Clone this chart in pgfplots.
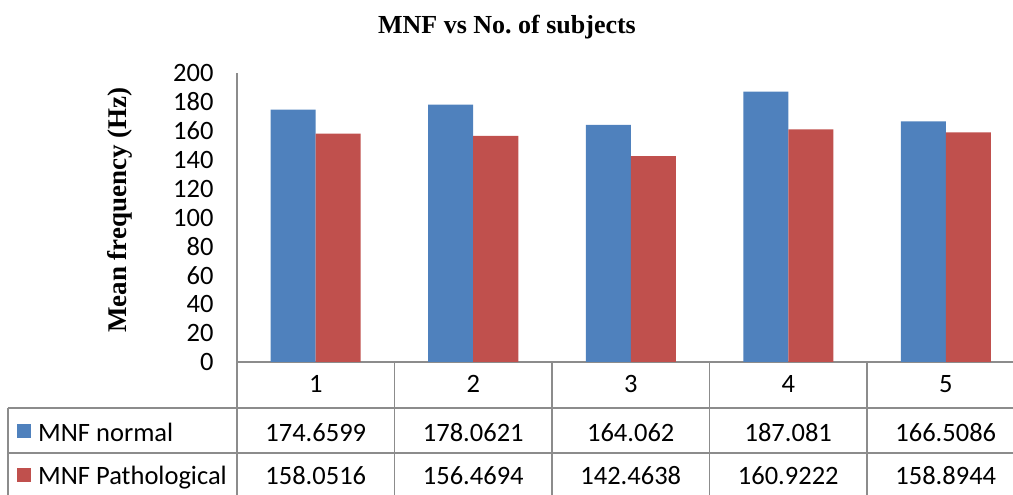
\documentclass[border=0pt]{standalone}
\usepackage{fontspec}
\setmainfont{Carlito}
\newfontfamily\titlefont{Liberation Serif}
\usepackage{pgfplots}
\usepackage{pgfplotstable}
\pgfplotsset{compat=1.18}

\definecolor{mnfblue}{HTML}{4F81BD}
\definecolor{mnfred}{HTML}{C0504D}
\definecolor{rulegray}{HTML}{8C8C8C}

% Mean frequency (Hz) per subject
\pgfplotstableread{
subj normal   patho
1    174.6599 158.0516
2    178.0621 156.4694
3    164.062  142.4638
4    187.081  160.9222
5    166.5086 158.8944
}\mnftable

\newcommand{\tblfont}{\fontsize{26.5}{30}\selectfont}

\begin{document}
\begin{tikzpicture}[x=1pt,y=1pt]
\clip (-237,-133) rectangle (776,362);
\begin{axis}[
  at={(0,0)}, anchor=south west,
  scale only axis, width=776pt, height=289pt,
  xmin=0.5, xmax=5.427, ymin=0, ymax=200,
  axis x line*=bottom, axis y line*=left,
  axis line style={rulegray, line width=1.5pt, -},
  xtick=\empty,
  ytick={0,20,...,200},
  major tick length=0pt,
  yticklabel style={font=\tblfont, xshift=-20pt},
  /pgf/number format/assume math mode=true,
  ybar, bar width=45pt,
  clip=false,
]
\addplot[fill=mnfblue, draw=none, bar shift=-22.5pt] table[x=subj, y=normal] {\mnftable};
\addplot[fill=mnfred,  draw=none, bar shift=22.5pt]  table[x=subj, y=patho]  {\mnftable};
\end{axis}

% title and y label
\node[font=\titlefont\bfseries\fontsize{26}{30}\selectfont] at (270,335) {MNF vs No.\ of subjects};
\node[font=\titlefont\bfseries\fontsize{27}{30}\selectfont, rotate=90] at (-117,152) {Mean frequency (Hz)};

% data table below the plot
\begin{scope}[rulegray, line width=1.5pt]
  \draw (-229,-46) -- (776,-46);
  \draw (-229,-91) -- (776,-91);
  \draw (-229,-46) -- (-229,-133);
  \foreach \k in {0,1,2,3,4} \draw (157.5*\k,0) -- (157.5*\k,-133);
\end{scope}

\fill[mnfblue] (-220,-76) rectangle (-206,-62);
\fill[mnfred]  (-220,-120) rectangle (-206,-106);
\node[anchor=base west, inner sep=0, font=\tblfont] at (-199,-80) {MNF normal};
\node[anchor=base west, inner sep=0, font=\tblfont] at (-199,-123) {MNF Pathological};

\foreach \i in {0,...,4} {
  \pgfmathsetmacro{\cx}{157.5*\i+78.75}
  \pgfplotstablegetelem{\i}{subj}\of\mnftable
  \node[anchor=base, inner sep=0, font=\tblfont] at (\cx,-31) {\pgfplotsretval};
  \pgfplotstablegetelem{\i}{normal}\of\mnftable
  \node[anchor=base, inner sep=0, font=\tblfont] at (\cx,-80) {\pgfplotsretval};
  \pgfplotstablegetelem{\i}{patho}\of\mnftable
  \node[anchor=base, inner sep=0, font=\tblfont] at (\cx,-123) {\pgfplotsretval};
}
\end{tikzpicture}
\end{document}
